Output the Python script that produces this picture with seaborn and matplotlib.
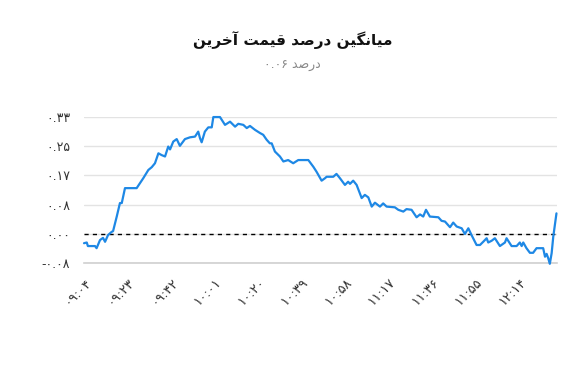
import matplotlib
matplotlib.use("Agg")
import matplotlib.pyplot as plt
import seaborn as sns
import pandas as pd

# ---------------- data ----------------
title_text = "میانگین درصد قیمت آخرین"
subtitle_word = "درصد"
subtitle_value = "0.06"
start_time = "09:04"
# minutes elapsed since 09:04
elapsed_min = [0, 1.2, 1.7, 4.8, 5.5, 7.0, 8.3, 9.2, 10.5, 12.1, 12.7, 14.3, 15.7, 16.5, 17.9,
               23.0, 25.9, 28.1, 29.6, 31.0, 32.5, 33.9, 35.4, 36.8, 37.6, 39.0, 40.5, 41.9,
               44.1, 46.3, 48.5, 49.9, 50.7, 51.4, 52.8, 54.3, 55.8, 56.5, 59.4, 61.6, 63.8,
               66.0, 67.4, 69.6, 71.1, 72.5, 74.7, 76.9, 78.3, 79.8, 81.2, 82.0, 83.4, 85.6,
               87.1, 89.2, 91.4, 93.6, 98.0, 100.2, 101.6, 103.8, 105.3, 106.0, 108.9, 110.3,
               111.8, 114.0, 115.4, 116.2, 117.6, 119.1, 121.3, 122.7, 124.2, 125.7, 127.1,
               129.3, 130.7, 132.2, 135.8, 137.3, 139.5, 140.9, 143.1, 145.3, 146.8, 148.2,
               149.4, 151.1, 154.8, 156.2, 157.7, 159.9, 161.3, 162.8, 165.0, 166.4, 167.9,
               169.3, 171.5, 173.0, 174.4, 175.9, 176.6, 178.1, 179.5, 181.7, 183.9, 184.6,
               186.8, 189.0, 190.4, 191.2, 191.9, 193.3, 194.8, 196.2, 197.7, 200.6, 201.4,
               202.1, 202.8, 203.5, 204.3, 205.0, 206.4]
avg_pct = [-0.026, -0.024, -0.034, -0.034, -0.040, -0.017, -0.011, -0.022, -0.003, 0.006, 0.008,
           0.049, 0.087, 0.087, 0.129, 0.129, 0.157, 0.180, 0.188, 0.199, 0.227, 0.222, 0.218,
           0.246, 0.238, 0.260, 0.267, 0.248, 0.267, 0.272, 0.274, 0.288, 0.269, 0.258, 0.288,
           0.300, 0.300, 0.329, 0.329, 0.307, 0.316, 0.302, 0.310, 0.307, 0.298, 0.304, 0.293,
           0.284, 0.279, 0.265, 0.255, 0.255, 0.232, 0.218, 0.204, 0.208, 0.199, 0.208, 0.208,
           0.189, 0.175, 0.150, 0.157, 0.161, 0.161, 0.169, 0.157, 0.138, 0.147, 0.141, 0.150,
           0.138, 0.101, 0.110, 0.103, 0.077, 0.088, 0.077, 0.086, 0.077, 0.075, 0.068, 0.063,
           0.070, 0.068, 0.047, 0.055, 0.049, 0.068, 0.049, 0.047, 0.037, 0.035, 0.019, 0.032,
           0.021, 0.016, 0.000, 0.016, -0.003, -0.031, -0.031, -0.022, -0.012, -0.024, -0.019,
           -0.012, -0.034, -0.024, -0.012, -0.034, -0.034, -0.024, -0.034, -0.024, -0.040,
           -0.053, -0.053, -0.040, -0.040, -0.064, -0.056, -0.068, -0.084, -0.054, -0.008, 0.058]
y_ticks = [-0.0825, 0.0, 0.0825, 0.165, 0.2475, 0.33]
y_tick_labels = ["-0.08", "0.00", "0.08", "0.17", "0.25", "0.33"]
x_tick_labels = ["09:04", "09:23", "09:42", "10:01", "10:20", "10:39",
                 "10:58", "11:17", "11:36", "11:55", "12:14"]
x_end_min = 206.5

# ---------------- helpers ----------------
FORMS = {  # isolated, final, initial, medial
    "\u0627": ("\uFE8D", "\uFE8E", None, None),
    "\u0622": ("\uFE81", "\uFE82", None, None),
    "\u062F": ("\uFEA9", "\uFEAA", None, None),
    "\u0631": ("\uFEAD", "\uFEAE", None, None),
    "\u062E": ("\uFEA5", "\uFEA6", "\uFEA7", "\uFEA8"),
    "\u0635": ("\uFEB9", "\uFEBA", "\uFEBB", "\uFEBC"),
    "\u0642": ("\uFED5", "\uFED6", "\uFED7", "\uFED8"),
    "\u0645": ("\uFEE1", "\uFEE2", "\uFEE3", "\uFEE4"),
    "\u0646": ("\uFEE5", "\uFEE6", "\uFEE7", "\uFEE8"),
    "\u062A": ("\uFE95", "\uFE96", "\uFE97", "\uFE98"),
    "\u06CC": ("\uFBFC", "\uFBFD", "\uFEF3", "\uFEF4"),
    "\u06AF": ("\uFB92", "\uFB93", "\uFB94", "\uFB95"),
}


def shape_word(word):
    out = []
    n = len(word)
    for i, ch in enumerate(word):
        f = FORMS.get(ch)
        if f is None:
            out.append(ch)
            continue
        prev = word[i - 1] if i > 0 else None
        nxt = word[i + 1] if i < n - 1 else None
        join_prev = prev in FORMS and FORMS[prev][2] is not None
        join_next = nxt in FORMS and f[2] is not None
        if join_prev and join_next:
            out.append(f[3])
        elif join_prev:
            out.append(f[1])
        elif join_next:
            out.append(f[2])
        else:
            out.append(f[0])
    return "".join(reversed(out))


def rtl(text):
    return " ".join(shape_word(w) for w in reversed(text.split(" ")))


def fa_digits(s):
    return s.translate(str.maketrans("0123456789", "۰۱۲۳۴۵۶۷۸۹"))


def hm_to_min(s):
    h, m = s.split(":")
    return int(h) * 60 + int(m)


# ---------------- plot ----------------
sns.set_style("white")
plt.rcParams["font.family"] = ["DejaVu Sans"]

df = pd.DataFrame({"t": elapsed_min, "v": avg_pct})

fig = plt.figure(figsize=(5.85, 3.70), dpi=100)
ax = fig.add_axes([0.1436, 0.2884, 0.808, 0.3962])

sns.lineplot(data=df, x="t", y="v", ax=ax, color="#1e88e5", linewidth=1.6, clip_on=False, zorder=3)
ax.axhline(0, color="black", linestyle=(0, (3, 3)), linewidth=1.0, zorder=2)

ax.set_xlim(0, x_end_min)
ax.set_ylim(y_ticks[0], y_ticks[-1])
ax.set_yticks(y_ticks)
ax.set_yticklabels([fa_digits(s) for s in y_tick_labels])
ax.yaxis.grid(True, color="#e3e3e3", linewidth=1.0)
ax.xaxis.grid(False)

t0 = hm_to_min(start_time)
xt = [hm_to_min(s) - t0 for s in x_tick_labels]
ax.set_xticks(xt)
ax.set_xticklabels([fa_digits(s) for s in x_tick_labels], rotation=45, ha="right",
                   rotation_mode="anchor")

for side in ["top", "right", "left"]:
    ax.spines[side].set_visible(False)
ax.spines["bottom"].set_color("#d0d0d0")
ax.spines["bottom"].set_linewidth(1.2)
ax.tick_params(axis="x", length=5, width=1, color="#d0d0d0", labelsize=9.5, labelcolor="#333333", pad=4)
ax.tick_params(axis="y", length=0, labelsize=9, labelcolor="#333333", pad=10)
ax.set_xlabel("")
ax.set_ylabel("")

fig.text(0.5, 0.892, rtl(title_text), ha="center", va="center", fontsize=11,
         fontweight="bold", color="#111111")
fig.text(0.5, 0.822, fa_digits(subtitle_value) + " " + rtl(subtitle_word), ha="center",
         va="center", fontsize=9, color="#888888")

fig.savefig("out.png", dpi=100, facecolor="white")
